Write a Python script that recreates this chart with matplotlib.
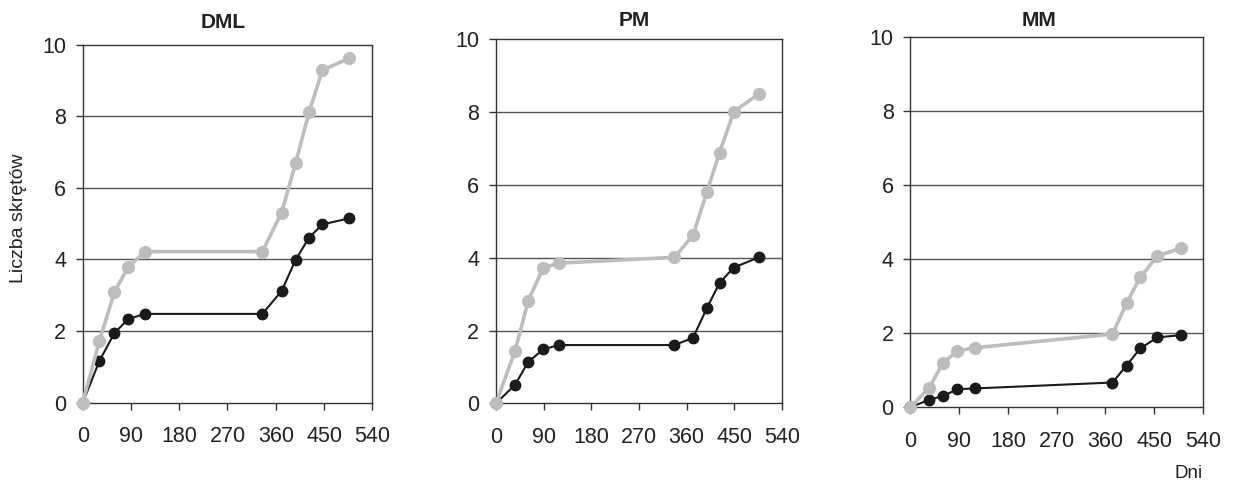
import matplotlib.pyplot as plt

plt.rcParams['font.family'] = ['Liberation Sans', 'DejaVu Sans']

# Data
titles = ['DML', 'PM', 'MM']

dml_days = [0, 31, 59, 85, 117, 335, 371, 397, 422, 447, 497]
dml_gray = [0, 1.71, 3.08, 3.80, 4.22, 4.22, 5.31, 6.69, 8.11, 9.29, 9.62]
dml_black = [0, 1.16, 1.94, 2.34, 2.48, 2.48, 3.12, 3.99, 4.61, 4.98, 5.15]

pm_days = [0, 36, 61, 89, 118, 337, 372, 398, 422, 449, 496]
pm_gray = [0, 1.44, 2.82, 3.72, 3.85, 4.01, 4.62, 5.80, 6.89, 8.01, 8.50]
pm_black = [0, 0.51, 1.14, 1.48, 1.60, 1.60, 1.80, 2.61, 3.31, 3.73, 4.01]

mm_days = [0, 34, 61, 87, 119, 373, 399, 424, 456, 499]
mm_gray = [0, 0.51, 1.21, 1.52, 1.61, 1.98, 2.81, 3.51, 4.09, 4.30]
mm_black = [0, 0.20, 0.31, 0.49, 0.51, 0.67, 1.13, 1.59, 1.89, 1.95]

x_ticks = [0, 90, 180, 270, 360, 450, 540]
y_ticks = [0, 2, 4, 6, 8, 10]

panels = [
    (dml_days, dml_gray, dml_black),
    (pm_days, pm_gray, pm_black),
    (mm_days, mm_gray, mm_black),
]

# axes rectangles in figure fractions, and title positions in pixels
rects = [
    [0.0669, 0.1663, 0.2343, 0.7412],
    [0.4013, 0.1650, 0.2314, 0.7536],
    [0.7365, 0.1567, 0.2368, 0.7661],
]
title_xy = [(223, 22), (634, 21), (1039, 20)]

W, H = 1236, 483
fig = plt.figure(figsize=(W / 100, H / 100), dpi=100)

gray = '#bdbdbd'
black = '#1a1a1a'

for (days, g, b), rect, title, (tx, ty) in zip(panels, rects, titles, title_xy):
    ax = fig.add_axes(rect)
    ax.plot(days, b, color=black, lw=1.5, marker='o', ms=7.5,
            clip_on=False, zorder=3)
    ax.plot(days, g, color=gray, lw=2.6, marker='o', ms=8.5,
            clip_on=False, zorder=4)
    ax.set_xlim(0, 540)
    ax.set_ylim(0, 10)
    ax.set_xticks(x_ticks)
    ax.set_yticks(y_ticks)
    for yv in y_ticks[1:-1]:
        ax.axhline(yv, color='#555555', lw=1.0, zorder=1)
    for sp in ax.spines.values():
        sp.set_color('#333333')
        sp.set_linewidth(1.0)
    ax.tick_params(axis='x', direction='out', length=5, width=1,
                   color='#333333', labelsize=15.5, pad=12, labelcolor='#222222')
    ax.tick_params(axis='y', direction='out', length=5, width=1,
                   color='#333333', labelsize=15.5, pad=7, labelcolor='#222222')
    fig.text(tx / W, 1 - ty / H, title, ha='center', va='center',
             fontsize=15, fontweight='bold', color='#222222')

fig.text(19 / W, 1 - 218 / H, 'Liczba skrętów', rotation=90,
         ha='center', va='center', fontsize=14, color='#222222')
fig.text(1189 / W, 1 - 473 / H, 'Dni', ha='center', va='center',
         fontsize=13.5, color='#222222')

fig.savefig('out.png', dpi=100)
